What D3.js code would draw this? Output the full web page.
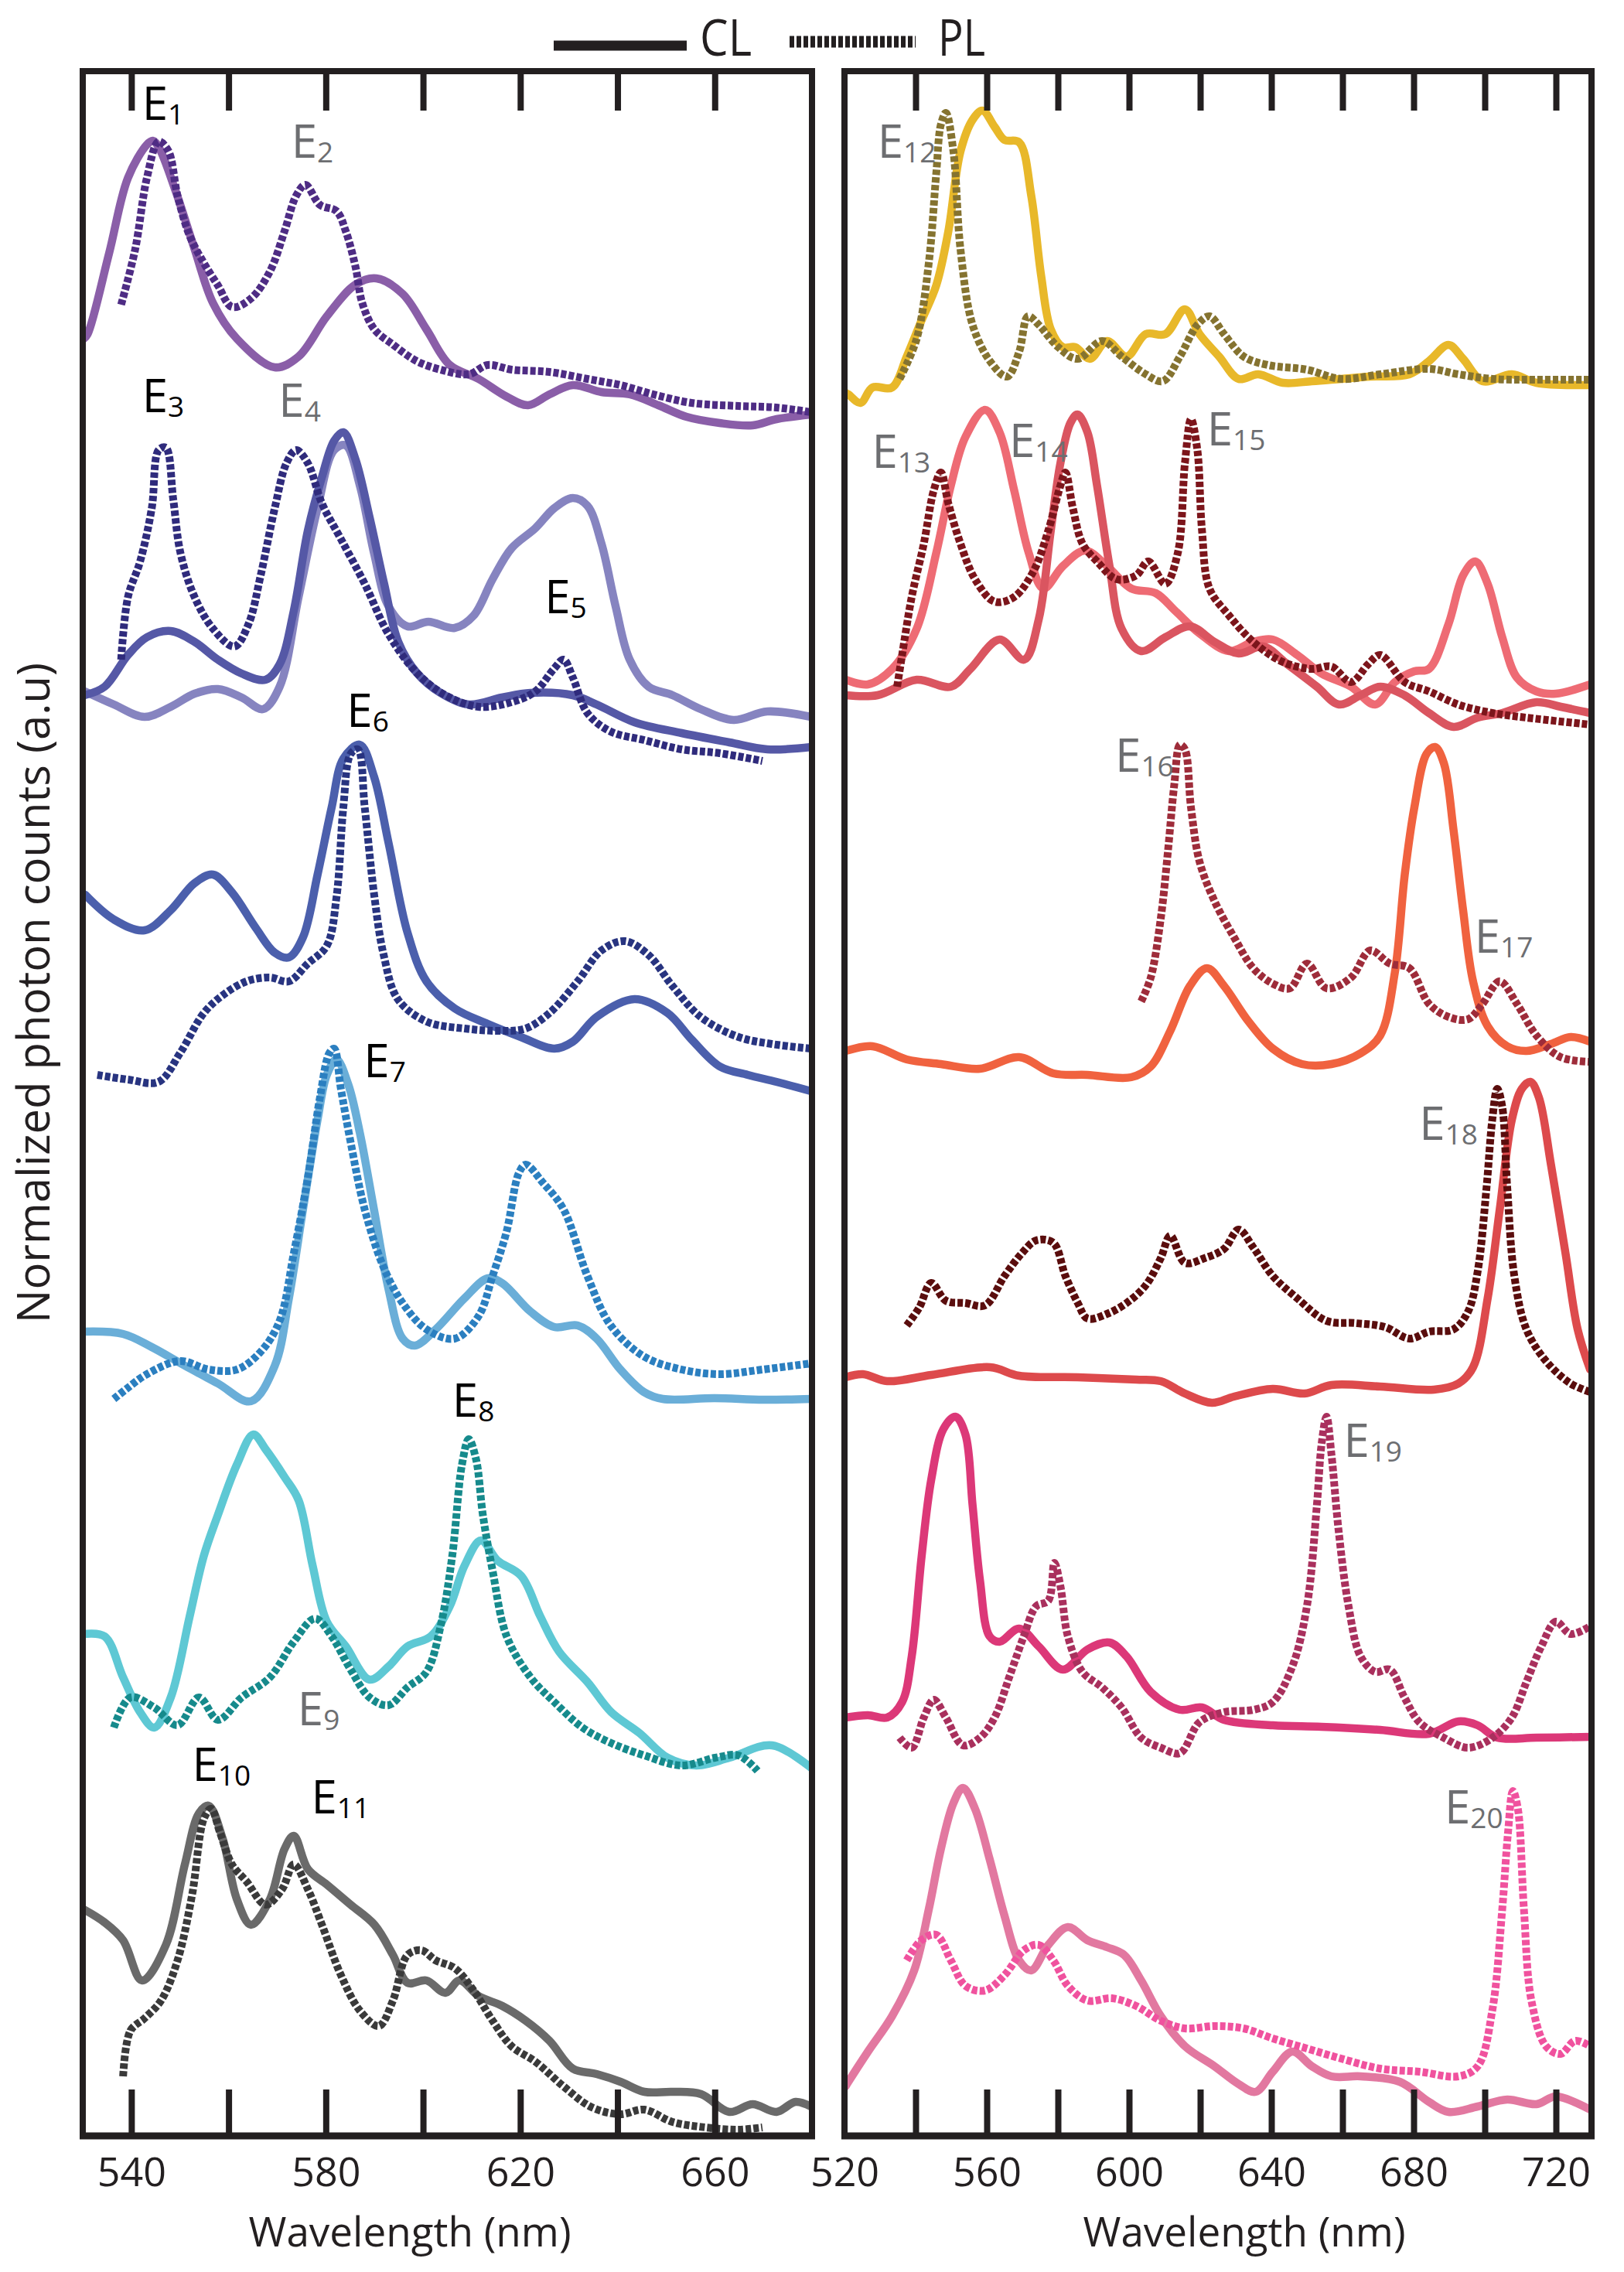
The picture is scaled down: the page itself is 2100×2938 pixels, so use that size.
<!DOCTYPE html>
<html>
<head>
<meta charset="utf-8">
<script src="https://cdn.jsdelivr.net/npm/d3@7.9.0/dist/d3.min.js"></script>
<style>
  body { margin: 0; background: #fff; }
  svg { display: block; }
  text { font-family: "Open Sans", "Noto Sans", sans-serif; }
</style>
</head>
<body>
<div id="chart"></div>
<script>
// ---- Data: [wavelength (nm), stacked normalized counts (a.u.)] ----

// Left panel
const leftTicks = [540, 560, 580, 600, 620, 640, 660];
const leftTickLabels = [540, 580, 620, 660];

const e1Solid = [[530.2,23.2],[531.0,23.26],[535.4,24.30],[539.3,25.28],[543.2,25.71],[544.4,25.76],[545.6,25.68],[549.1,25.11],[553.0,24.36],[556.8,23.66],[561.7,23.20],[569.5,22.83],[574.4,22.97],[580.2,23.49],[586.1,23.90],[590.4,23.98],[595.8,23.78],[600.7,23.32],[605.5,22.86],[611.4,22.68],[617.2,22.45],[621.6,22.34],[626.0,22.48],[630.8,22.60],[636.7,22.51],[642.5,22.48],[648.4,22.34],[654.2,22.19],[661.0,22.11],[667.8,22.08],[672.7,22.16],[679.8,22.22]];
const e1Dotted = [[537.9,23.64],[540.8,24.36],[543.2,25.28],[545.6,25.75],[547.6,25.63],[549.5,25.05],[552.0,24.53],[554.9,24.18],[557.8,23.89],[560.7,23.61],[564.6,23.72],[568.5,24.07],[571.5,24.59],[573.9,25.05],[575.8,25.19],[578.8,24.93],[582.2,24.85],[584.1,24.59],[586.1,24.13],[587.5,23.66],[590.0,23.32],[593.9,23.12],[598.7,22.91],[603.6,22.80],[609.4,22.74],[613.3,22.86],[618.2,22.80],[626.0,22.77],[633.8,22.68],[640.6,22.60],[647.4,22.48],[655.2,22.37],[664.9,22.33],[672.7,22.31],[679.8,22.25]];

const e3Dotted = [[537.9,19.05],[539.3,19.86],[541.8,20.32],[544.2,21.01],[545.6,21.76],[547.1,21.79],[548.6,21.13],[550.1,20.43],[553.0,19.86],[556.8,19.45],[561.2,19.22],[564.1,19.51],[566.6,20.14],[569.5,21.01],[571.9,21.59],[573.9,21.76],[576.3,21.59],[579.2,21.07],[583.1,20.61],[588.0,20.03],[592.8,19.39],[598.7,18.88],[604.6,18.59],[611.4,18.44],[618.2,18.50],[623.1,18.64],[626.9,18.93],[628.9,19.05],[630.8,18.82],[633.8,18.36],[638.6,18.12],[645.5,18.01],[653.2,17.89],[661.0,17.84],[669.8,17.74]];
const e3Solid = [[530.4,18.59],[534.5,18.70],[539.3,19.11],[543.2,19.34],[548.1,19.42],[553.0,19.28],[557.8,19.05],[562.7,18.87],[567.6,18.79],[570.5,18.99],[573.4,19.68],[576.3,20.72],[579.2,21.41],[581.7,21.88],[583.6,21.99],[586.1,21.64],[589.0,20.89],[592.0,20.03],[594.9,19.28],[598.7,18.88],[603.6,18.62],[609.4,18.47],[616.2,18.56],[622.1,18.62],[630.8,18.59],[635.7,18.47],[643.5,18.24],[653.2,18.10],[663.0,17.98],[670.8,17.89],[679.8,17.92]];
const e5Solid = [[530.4,18.64],[536.4,18.47],[542.7,18.31],[548.1,18.44],[553.0,18.61],[557.8,18.67],[562.7,18.56],[567.1,18.41],[570.5,18.70],[574.4,19.86],[578.3,21.01],[581.7,21.76],[584.1,21.82],[587.0,21.30],[589.9,20.43],[592.9,19.74],[596.8,19.48],[601.1,19.54],[606.5,19.46],[610.4,19.62],[614.3,20.09],[618.2,20.49],[623.1,20.75],[627.0,21.01],[630.8,21.14],[633.8,21.04],[636.7,20.55],[639.6,19.74],[642.5,19.05],[646.4,18.70],[651.3,18.59],[657.1,18.41],[663.9,18.27],[670.8,18.38],[679.8,18.31]];

const e6Solid = [[530.5,16.01],[536.4,15.69],[542.7,15.55],[548.1,15.81],[553.0,16.16],[556.8,16.27],[560.7,16.04],[565.6,15.58],[569.5,15.26],[572.4,15.20],[575.3,15.46],[578.3,16.27],[581.2,17.14],[583.6,17.77],[587.0,17.95],[589.9,17.54],[592.9,16.68],[596.8,15.52],[600.7,14.89],[606.5,14.54],[613.3,14.34],[620.1,14.17],[627.0,14.02],[630.8,14.11],[635.7,14.43],[643.5,14.66],[650.3,14.48],[655.2,14.14],[661.0,13.79],[666.8,13.68],[672.7,13.59],[679.8,13.47]];
const e6Dotted = [[533.0,13.68],[539.3,13.62],[545.6,13.59],[550.0,13.96],[554.9,14.48],[558.8,14.71],[563.7,14.89],[568.5,14.94],[572.4,14.89],[576.3,15.12],[580.2,15.35],[582.2,15.98],[583.6,17.14],[585.1,17.83],[586.6,17.89],[588.0,17.14],[590.0,15.98],[591.9,15.23],[594.8,14.66],[600.7,14.37],[608.5,14.28],[616.2,14.25],[621.1,14.28],[626.0,14.48],[631.8,14.89],[636.7,15.29],[641.5,15.41],[646.4,15.23],[651.3,14.83],[657.1,14.43],[664.9,14.17],[671.7,14.08],[679.8,14.02]];

const e7Solid = [[530.3,10.36],[538.3,10.33],[544.2,10.16],[551.0,9.92],[557.8,9.69],[564.6,9.46],[569.5,9.92],[572.4,10.79],[575.3,11.94],[578.3,13.10],[580.2,13.68],[582.2,13.88],[584.6,13.56],[587.0,12.93],[589.9,11.94],[592.9,10.91],[595.8,10.27],[598.3,10.18],[602.6,10.39],[608.5,10.79],[613.3,11.05],[616.2,10.99],[622.1,10.62],[627.0,10.42],[631.8,10.44],[635.7,10.27],[640.6,9.87],[645.4,9.58],[649.3,9.49],[660.0,9.50],[670.0,9.48],[679.8,9.49]];
const e7Dotted = [[536.4,9.49],[539.0,9.62],[543.2,9.81],[550.0,9.98],[555.9,9.87],[561.7,9.87],[566.6,10.10],[570.5,10.50],[573.4,11.37],[576.3,12.35],[578.8,13.39],[580.7,13.96],[581.7,14.02],[583.1,13.50],[585.1,12.81],[588.0,11.94],[591.9,11.19],[595.8,10.73],[600.7,10.39],[606.5,10.27],[611.4,10.56],[614.3,11.08],[617.2,11.66],[619.7,12.41],[621.1,12.52],[624.6,12.29],[628.9,11.94],[633.8,11.08],[638.6,10.44],[645.4,10.04],[653.2,9.87],[661.0,9.81],[669.8,9.87],[679.8,9.95]];

const e8Solid = [[530.1,6.45],[534.5,6.42],[538.3,5.89],[541.8,5.44],[544.7,5.24],[548.1,5.63],[552.0,6.68],[554.9,7.46],[557.8,7.99],[561.7,8.64],[565.1,9.03],[567.6,8.84],[571.5,8.48],[574.4,8.18],[577.3,7.33],[580.2,6.61],[584.1,6.29],[589.0,5.86],[592.9,6.03],[596.8,6.29],[601.6,6.42],[605.5,6.81],[608.5,7.33],[611.9,7.66],[615.3,7.40],[620.2,7.20],[624.1,6.68],[628.0,6.22],[633.8,5.83],[638.7,5.44],[644.5,5.17],[650.3,4.85],[656.2,4.75],[663.0,4.85],[671.8,5.01],[679.8,4.72]];
const e8Dotted = [[536.4,5.24],[539.8,5.63],[544.7,5.50],[549.5,5.27],[553.9,5.63],[557.8,5.34],[562.7,5.63],[568.5,5.89],[573.4,6.35],[577.8,6.65],[581.2,6.42],[585.1,5.99],[589.0,5.63],[592.9,5.53],[596.8,5.76],[600.7,5.96],[603.6,6.55],[606.0,7.46],[608.0,8.64],[609.4,8.97],[610.9,8.71],[612.3,7.99],[614.3,7.27],[617.2,6.42],[622.1,5.89],[627.0,5.57],[632.8,5.24],[638.7,5.04],[645.5,4.88],[653.2,4.75],[660.1,4.85],[664.9,4.88],[668.8,4.68]];

const e10Solid = [[530.2,2.89],[534.5,2.72],[538.3,2.49],[542.2,1.97],[547.1,2.43],[551.0,3.47],[553.9,4.13],[555.9,4.23],[558.8,3.80],[561.7,3.02],[564.6,2.69],[568.5,3.02],[571.5,3.67],[573.4,3.84],[576.3,3.41],[580.2,3.21],[585.1,2.95],[590.0,2.69],[593.8,2.30],[596.8,1.94],[600.7,1.97],[604.6,1.81],[607.5,1.97],[611.4,1.77],[616.3,1.64],[621.1,1.45],[626.0,1.19],[630.8,0.83],[635.7,0.76],[640.6,0.66],[645.5,0.53],[651.3,0.53],[657.2,0.50],[663.0,0.27],[667.8,0.37],[672.7,0.27],[676.6,0.40],[679.8,0.34]];
const e10Dotted = [[538.3,0.73],[539.8,1.32],[542.7,1.48],[546.1,1.71],[549.5,2.23],[552.5,3.08],[554.9,4.06],[556.4,4.19],[558.3,3.87],[560.7,3.47],[563.7,3.25],[567.6,2.95],[571.0,3.15],[573.4,3.47],[576.3,3.15],[579.2,2.69],[583.1,2.04],[587.0,1.58],[590.9,1.38],[593.8,1.71],[596.8,2.30],[599.7,2.36],[602.6,2.23],[606.5,2.13],[610.4,1.84],[614.3,1.45],[618.2,1.12],[623.1,0.92],[628.9,0.60],[634.7,0.33],[640.6,0.24],[645.5,0.30],[651.3,0.14],[658.1,0.07],[664.9,0.04],[669.8,0.07]];

// Right panel
const rightTicks = [540, 560, 580, 600, 620, 640, 660, 680, 700, 720];
const rightTickLabels = [520, 560, 600, 640, 680, 720];

const e12Solid = [[520.3,22.50],[521.1,22.48],[524.5,22.37],[527.9,22.57],[533.4,22.57],[537.5,22.97],[541.6,23.43],[545.8,23.89],[549.2,24.59],[552.6,25.62],[556.0,26.03],[558.8,26.15],[562.2,25.94],[565.0,25.77],[569.1,25.74],[572.5,25.05],[575.3,24.01],[578.0,23.32],[581.4,23.09],[584.9,23.09],[589.0,22.94],[593.8,23.17],[599.3,22.97],[604.7,23.26],[610.2,23.26],[615.7,23.58],[619.8,23.26],[625.3,22.97],[630.8,22.68],[636.3,22.74],[643.2,22.63],[651.4,22.65],[659.6,22.68],[667.8,22.71],[678.8,22.74],[684.3,22.91],[689.8,23.12],[693.9,22.94],[699.4,22.65],[707.6,22.74],[714.5,22.63],[729.6,22.60]];
const e12Dotted = [[535.5,22.68],[540.3,23.20],[543.7,24.18],[545.8,25.34],[547.1,25.97],[548.5,26.12],[550.6,25.63],[552.6,24.36],[556.0,23.38],[560.9,22.91],[565.7,22.71],[569.1,23.03],[571.6,23.49],[574.6,23.38],[580.1,23.09],[585.5,22.94],[592.4,23.17],[597.9,22.97],[604.7,22.74],[609.5,22.65],[614.3,22.97],[619.2,23.38],[622.6,23.49],[626.7,23.26],[632.2,22.97],[639.0,22.86],[650.0,22.80],[659.6,22.68],[670.6,22.74],[684.3,22.81],[692.6,22.74],[702.2,22.68],[714.5,22.67],[729.6,22.67]];

const e13Solid = [[520.3,18.79],[526.6,18.73],[533.4,18.93],[540.3,19.45],[545.8,20.43],[549.9,21.30],[554.0,21.93],[559.5,22.28],[563.6,21.99],[567.7,21.24],[571.8,20.43],[575.9,19.97],[581.4,20.26],[587.6,20.46],[593.8,20.26],[600.6,19.97],[607.5,19.91],[613.0,19.68],[619.8,19.39],[628.1,19.16],[634.9,19.28],[640.4,19.31],[647.3,19.11],[654.1,18.87],[662.4,18.70],[669.2,18.47],[674.7,18.76],[680.2,18.90],[684.3,18.93],[689.8,19.51],[693.9,20.14],[697.3,20.32],[700.8,20.03],[704.9,19.34],[709.0,18.82],[714.5,18.64],[720.0,18.61],[729.6,18.73]];
const e14Solid = [[520.3,18.59],[529.3,18.59],[540.3,18.79],[549.9,18.70],[555.4,18.93],[563.6,19.31],[570.5,19.05],[574.6,19.57],[578.0,20.72],[580.7,21.59],[583.5,22.11],[585.5,22.22],[588.3,21.99],[591.0,21.30],[594.5,20.26],[597.9,19.45],[603.4,19.16],[610.2,19.34],[617.1,19.48],[624.0,19.28],[630.8,19.13],[637.7,19.22],[644.5,18.99],[652.8,18.70],[659.0,18.47],[665.1,18.59],[670.6,18.70],[677.4,18.59],[684.3,18.36],[691.2,18.18],[698.0,18.30],[704.9,18.36],[714.5,18.50],[721.4,18.44],[729.6,18.36]];
const e15Dotted = [[534.8,18.70],[536.2,19.11],[538.9,19.86],[542.3,20.55],[545.1,21.24],[547.1,21.47],[549.2,21.07],[552.6,20.55],[556.7,20.09],[562.2,19.80],[567.7,19.86],[573.2,20.20],[577.3,20.72],[580.7,21.30],[582.1,21.47],[584.2,21.01],[586.9,20.55],[591.0,20.32],[596.5,20.09],[602.0,20.14],[605.4,20.32],[610.2,20.03],[613.7,20.43],[615.7,21.59],[617.4,22.16],[619.2,21.76],[620.5,20.72],[622.6,19.97],[628.1,19.62],[634.9,19.28],[643.2,19.02],[651.4,18.93],[656.9,18.96],[662.4,18.76],[667.2,18.99],[670.6,19.11],[677.5,18.76],[684.3,18.64],[692.5,18.47],[702.1,18.36],[711.7,18.30],[729.6,18.21]];

const e17Solid = [[520.3,13.99],[527.9,14.05],[537.5,13.88],[547.1,13.82],[558.1,13.76],[569.1,13.91],[578.7,13.70],[588.3,13.68],[600.6,13.65],[606.1,13.79],[611.6,14.25],[617.1,14.83],[621.9,15.06],[626.7,14.83],[633.6,14.37],[640.4,14.02],[648.6,13.82],[656.9,13.82],[665.1,13.96],[670.6,14.19],[674.7,15.00],[677.5,16.27],[680.2,17.14],[683.6,17.83],[686.0,17.92],[688.5,17.71],[691.2,16.85],[693.9,15.81],[696.7,14.89],[700.8,14.31],[706.3,14.05],[711.7,13.99],[718.6,14.08],[724.1,14.17],[729.6,14.11]];
const e16Dotted = [[603.4,14.63],[606.1,14.94],[608.9,15.70],[610.9,16.56],[612.7,17.43],[614.3,17.95],[615.7,17.89],[617.4,17.14],[619.8,16.44],[624.0,15.93],[629.5,15.46],[634.9,15.06],[640.4,14.86],[645.2,14.80],[650.0,15.12],[655.5,14.80],[662.4,14.94],[667.8,15.29],[673.3,15.12],[678.8,15.06],[684.3,14.60],[689.8,14.43],[695.3,14.40],[699.4,14.60],[704.2,14.89],[709.0,14.60],[714.5,14.19],[721.3,13.91],[729.6,13.85]];

const e18Solid = [[520.3,9.77],[525.2,9.81],[532.0,9.72],[544.4,9.80],[560.9,9.90],[569.1,9.79],[585.5,9.77],[602.0,9.74],[608.9,9.72],[615.7,9.56],[623.3,9.44],[629.5,9.52],[640.4,9.62],[649.3,9.56],[656.9,9.67],[670.6,9.65],[685.7,9.61],[692.6,9.69],[696.7,9.90],[700.8,10.79],[704.2,11.94],[707.6,13.10],[710.4,13.50],[712.8,13.59],[715.2,13.39],[718.6,12.52],[722.7,11.37],[726.1,10.39],[729.6,9.87]];
const e18Dotted = [[537.5,10.44],[541.0,10.67],[544.4,10.99],[548.5,10.76],[554.0,10.73],[559.5,10.70],[565.0,11.08],[569.8,11.37],[573.9,11.54],[578.7,11.51],[582.1,11.08],[585.6,10.73],[588.3,10.53],[593.8,10.59],[599.3,10.73],[604.7,10.96],[608.9,11.31],[611.6,11.60],[615.7,11.25],[621.2,11.31],[626.7,11.43],[630.8,11.68],[634.9,11.45],[640.4,11.08],[647.3,10.79],[655.5,10.50],[663.7,10.47],[671.9,10.42],[678.8,10.27],[684.3,10.36],[691.2,10.39],[695.3,10.62],[698.0,11.14],[700.5,12.23],[702.1,13.10],[703.5,13.50],[704.9,13.27],[706.3,12.23],[708.3,11.08],[711.7,10.39],[717.2,9.98],[724.1,9.69],[729.6,9.58]];

const e19Solid = [[520.3,5.37],[526.6,5.40],[532.0,5.37],[536.2,5.57],[538.9,6.16],[541.7,7.46],[544.4,8.45],[547.8,9.10],[551.2,9.26],[554.0,9.03],[556.0,8.12],[558.1,7.14],[560.8,6.42],[563.6,6.35],[569.1,6.52],[574.6,6.29],[581.4,5.99],[588.3,6.25],[594.5,6.34],[599.3,6.16],[606.1,5.70],[614.3,5.47],[620.5,5.50],[626.7,5.34],[640.4,5.27],[654.1,5.25],[670.6,5.21],[684.3,5.16],[692.6,5.32],[698.0,5.27],[703.5,5.11],[714.5,5.11],[729.6,5.12]];
const e19Dotted = [[535.5,5.11],[538.9,4.98],[542.3,5.37],[545.1,5.60],[548.5,5.37],[553.3,5.01],[558.1,5.11],[562.2,5.37],[566.3,5.89],[570.4,6.42],[573.9,6.81],[577.3,6.88],[579.0,7.37],[580.7,7.07],[582.8,6.42],[586.9,5.96],[592.4,5.76],[597.9,5.50],[603.4,5.11],[608.9,4.98],[614.3,4.91],[619.8,5.31],[626.7,5.44],[634.9,5.47],[640.4,5.57],[645.9,6.03],[650.0,6.81],[652.8,8.12],[654.1,8.90],[655.5,9.26],[656.9,8.77],[658.9,7.79],[661.7,6.81],[665.1,6.16],[669.2,5.96],[673.3,5.99],[677.4,5.63],[681.6,5.31],[688.4,5.11],[695.3,4.98],[702.2,5.11],[707.6,5.37],[711.7,5.83],[715.9,6.29],[720.0,6.61],[724.1,6.45],[729.6,6.55]];

const e20Solid = [[520.3,0.60],[521.1,0.66],[526.6,1.05],[533.4,1.51],[539.6,2.10],[543.7,2.89],[547.1,3.67],[550.6,4.26],[553.3,4.46],[556.7,4.19],[560.8,3.54],[564.9,2.82],[569.1,2.23],[572.5,2.10],[577.3,2.43],[582.8,2.66],[588.3,2.49],[593.8,2.40],[598.6,2.30],[603.4,1.97],[608.9,1.51],[615.7,1.12],[624.0,0.86],[630.8,0.63],[635.6,0.53],[640.4,0.79],[645.9,1.05],[651.4,0.86],[656.9,0.73],[665.1,0.73],[676.1,0.66],[684.3,0.40],[689.8,0.27],[698.0,0.34],[706.3,0.43],[714.5,0.37],[720.0,0.47],[729.6,0.30]];
const e20Dotted = [[537.5,2.23],[541.6,2.49],[545.8,2.56],[549.9,2.23],[554.0,1.90],[559.5,1.84],[565.0,2.04],[570.4,2.36],[574.6,2.43],[578.7,2.23],[582.8,1.90],[588.3,1.71],[595.2,1.74],[602.0,1.64],[608.9,1.45],[615.7,1.35],[624.0,1.38],[632.2,1.35],[640.4,1.22],[650.0,1.09],[659.6,0.96],[670.6,0.83],[681.6,0.79],[692.6,0.73],[698.0,0.86],[702.1,1.58],[704.9,2.89],[706.5,3.87],[707.9,4.42],[709.3,4.19],[711.0,2.89],[713.1,1.71],[717.2,1.12],[721.3,1.02],[725.4,1.19],[729.6,1.12]];

// Emitter labels: name, subscript, panel, anchor [nm, a.u.], grey
const emitterLabels = [
  ['E','1',0,[542.2,26.03],false], ['E','2',0,[572.9,25.54],true],
  ['E','3',0,[542.2,22.25],false], ['E','4',0,[570.3,22.19],true],
  ['E','5',0,[625.0,19.65],false], ['E','6',0,[584.3,18.18],false],
  ['E','7',0,[587.8,13.65],false], ['E','8',0,[606.0,9.26],false],
  ['E','9',0,[574.2,5.27],true],   ['E','10',0,[552.5,4.55],false],
  ['E','11',0,[577.0,4.13],false],
  ['E','12',1,[529.3,25.54],true], ['E','13',1,[527.7,21.53],true],
  ['E','14',1,[566.3,21.67],true], ['E','15',1,[621.9,21.82],true],
  ['E','16',1,[596.1,17.60],true], ['E','17',1,[697.1,15.26],true],
  ['E','18',1,[681.6,12.84],true], ['E','19',1,[660.3,8.74],true],
  ['E','20',1,[688.7,4.00],true]
];

// ---- Series table (styles kept apart from the values) ----
const series = [
  { panel: 0, values: e1Solid,  color: '#8a5ea8', kind: 'CL' },
  { panel: 0, values: e1Dotted, color: '#4e2c84', kind: 'PL' },
  { panel: 0, values: e5Solid,  color: '#8684c0', kind: 'CL' },
  { panel: 0, values: e3Solid,  color: '#5558a6', kind: 'CL' },
  { panel: 0, values: e3Dotted, color: '#2f2b7c', kind: 'PL' },
  { panel: 0, values: e6Solid,  color: '#4b5fac', kind: 'CL' },
  { panel: 0, values: e6Dotted, color: '#283480', kind: 'PL' },
  { panel: 0, values: e7Solid,  color: '#6aaed8', kind: 'CL' },
  { panel: 0, values: e7Dotted, color: '#2b7fc0', kind: 'PL' },
  { panel: 0, values: e8Solid,  color: '#5ec8d4', kind: 'CL' },
  { panel: 0, values: e8Dotted, color: '#168a8c', kind: 'PL' },
  { panel: 0, values: e10Solid, color: '#6a6a6a', kind: 'CL' },
  { panel: 0, values: e10Dotted,color: '#3a3a3a', kind: 'PL' },
  { panel: 1, values: e12Solid, color: '#e8b82a', kind: 'CL' },
  { panel: 1, values: e12Dotted,color: '#857330', kind: 'PL' },
  { panel: 1, values: e13Solid, color: '#ee6b74', kind: 'CL' },
  { panel: 1, values: e14Solid, color: '#da5560', kind: 'CL' },
  { panel: 1, values: e15Dotted,color: '#7c151b', kind: 'PL' },
  { panel: 1, values: e17Solid, color: '#f0623f', kind: 'CL' },
  { panel: 1, values: e16Dotted,color: '#9e2c3a', kind: 'PL' },
  { panel: 1, values: e18Solid, color: '#dd4a4c', kind: 'CL' },
  { panel: 1, values: e18Dotted,color: '#5a0d0d', kind: 'PL' },
  { panel: 1, values: e19Solid, color: '#dc3878', kind: 'CL' },
  { panel: 1, values: e19Dotted,color: '#a9305d', kind: 'PL' },
  { panel: 1, values: e20Solid, color: '#e278a0', kind: 'CL' },
  { panel: 1, values: e20Dotted,color: '#f0529e', kind: 'PL' }
];

// ---- Layout ----
const width = 2100;
const height = 2938;
const ink = '#231f20';
const grey = '#6d6e71';

const panels = [
  { domain: [530, 680], left: 107, right: 1050, top: 92, bottom: 2762,
    ticks: leftTicks, labels: leftTickLabels, titleX: 530 },
  { domain: [520, 730], left: 1092, right: 2058, top: 92, bottom: 2762,
    ticks: rightTicks, labels: rightTickLabels, titleX: 1609 }
];

const yScale = d3.scaleLinear().domain([0, 26.68]).range([2758, 90]);

const svg = d3.select('#chart')
  .append('svg')
  .attr('width', width)
  .attr('height', height)
  .attr('viewBox', `0 0 ${width} ${height}`);

svg.append('rect').attr('width', width).attr('height', height).attr('fill', '#fff');

panels.forEach((p, i) => {
  p.x = d3.scaleLinear().domain(p.domain).range([p.left, p.right]);

  svg.append('clipPath')
    .attr('id', `clip-${i}`)
    .append('rect')
    .attr('x', p.left)
    .attr('y', p.top)
    .attr('width', p.right - p.left)
    .attr('height', p.bottom - p.top);
});

// Spectra
const line = (x) => d3.line()
  .x(d => x(d[0]))
  .y(d => yScale(d[1]))
  .curve(d3.curveCatmullRom.alpha(0.5));

series.forEach(s => {
  const p = panels[s.panel];
  svg.append('path')
    .datum(s.values)
    .attr('clip-path', `url(#clip-${s.panel})`)
    .attr('fill', 'none')
    .attr('stroke', s.color)
    .attr('stroke-width', s.kind === 'CL' ? 10.5 : 10)
    .attr('stroke-linejoin', 'round')
    .attr('stroke-linecap', s.kind === 'CL' ? 'round' : 'butt')
    .attr('stroke-dasharray', s.kind === 'CL' ? null : '7,3')
    .attr('d', line(p.x));
});

// Frames, ticks and tick labels
panels.forEach(p => {
  const frame = svg.append('g').attr('stroke', ink).attr('fill', 'none');
  frame.append('rect')
    .attr('x', p.left).attr('y', p.top)
    .attr('width', p.right - p.left).attr('height', p.bottom - p.top)
    .attr('stroke-width', 8);
  frame.append('line')
    .attr('x1', p.left - 4).attr('x2', p.right + 4)
    .attr('y1', p.bottom).attr('y2', p.bottom)
    .attr('stroke-width', 9);

  const styleTicks = g => {
    g.select('.domain').remove();
    g.selectAll('.tick line').attr('stroke', ink).attr('stroke-width', 8);
  };

  svg.append('g')
    .attr('transform', `translate(0,${p.top})`)
    .call(d3.axisTop(p.x).tickValues(p.ticks).tickSize(-51).tickFormat(''))
    .call(styleTicks);

  svg.append('g')
    .attr('transform', `translate(0,${p.bottom})`)
    .call(d3.axisBottom(p.x).tickValues(p.ticks).tickSize(-60).tickFormat(''))
    .call(styleTicks);

  const labelAxis = svg.append('g')
    .attr('transform', `translate(0,${p.bottom})`)
    .call(d3.axisBottom(p.x).tickValues(p.labels).tickSize(0).tickFormat(d3.format('d')));
  labelAxis.select('.domain').remove();
  labelAxis.attr('font-family', null).attr('font-size', null);
  labelAxis.selectAll('.tick text')
    .attr('y', 65)
    .attr('dy', 0)
    .attr('fill', ink)
    .style('font-size', '52px');

  svg.append('text')
    .attr('x', p.titleX)
    .attr('y', 2905)
    .attr('text-anchor', 'middle')
    .attr('fill', ink)
    .style('font-size', '53px')
    .text('Wavelength (nm)');
});

// Emitter labels
emitterLabels.forEach(([name, sub, pi, at, isGrey]) => {
  const p = panels[pi];
  const t = svg.append('text')
    .attr('x', p.x(at[0]))
    .attr('y', yScale(at[1]))
    .attr('fill', isGrey ? grey : '#000')
    .style('font-size', '60px');
  t.append('tspan').text(name);
  t.append('tspan')
    .attr('dy', 6)
    .style('font-size', '37px')
    .text(sub);
});

// Y axis title
svg.append('text')
  .attr('transform', 'translate(64,1284) rotate(-90)')
  .attr('text-anchor', 'middle')
  .attr('fill', ink)
  .style('font-size', '58px')
  .text('Normalized photon counts (a.u)');

// Legend
const legend = svg.append('g');
legend.append('line')
  .attr('x1', 716).attr('x2', 888).attr('y1', 59).attr('y2', 59)
  .attr('stroke', ink).attr('stroke-width', 13);
legend.append('text')
  .attr('x', 905).attr('y', 72)
  .attr('fill', ink).style('font-size', '66px')
  .attr('textLength', 67).attr('lengthAdjust', 'spacingAndGlyphs')
  .text('CL');
legend.append('line')
  .attr('x1', 1021).attr('x2', 1184).attr('y1', 54).attr('y2', 54)
  .attr('stroke', ink).attr('stroke-width', 15)
  .attr('stroke-dasharray', '6,3');
legend.append('text')
  .attr('x', 1213).attr('y', 72)
  .attr('fill', ink).style('font-size', '66px')
  .attr('textLength', 61).attr('lengthAdjust', 'spacingAndGlyphs')
  .text('PL');
</script>
</body>
</html>
